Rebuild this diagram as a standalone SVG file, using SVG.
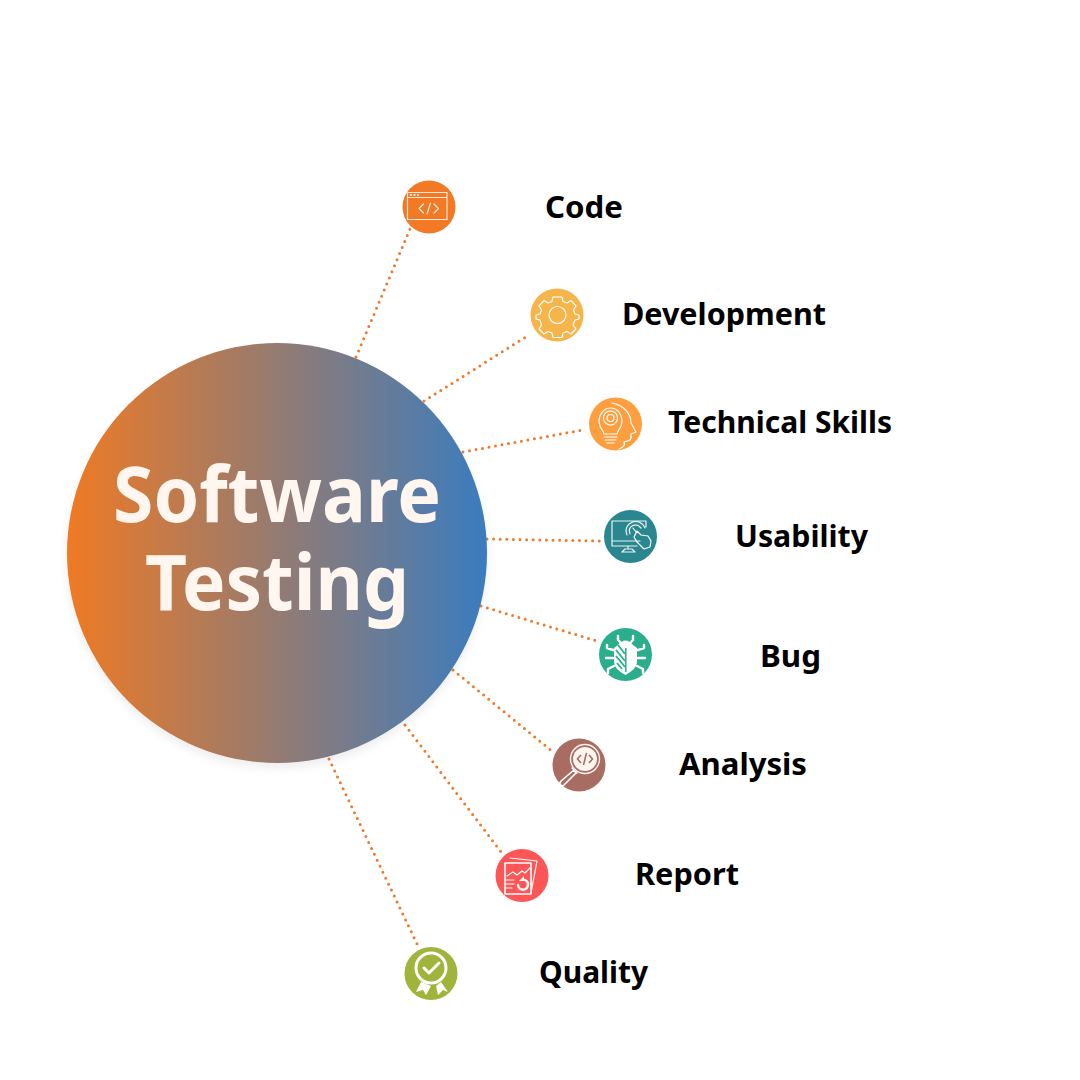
<svg xmlns="http://www.w3.org/2000/svg" width="1080" height="1080" viewBox="0 0 1080 1080">
<defs>
<linearGradient id="hub" x1="0" y1="0" x2="1" y2="0"><stop offset="0" stop-color="#ef7a24"/><stop offset="1" stop-color="#3a7bbf"/></linearGradient>
<filter id="soft" x="-10%" y="-10%" width="120%" height="120%"><feDropShadow dx="0" dy="5" stdDeviation="5" flood-color="#000" flood-opacity="0.07"/></filter>
</defs>
<style>
text{font-family:"Noto Sans","Open Sans","Liberation Sans",sans-serif;font-weight:700}
.lbl{font-size:31px;fill:#000}
.hub{font-size:77px;fill:#fff6ef}
.dot{fill:none;stroke:#ef7a2a;stroke-width:3;stroke-linecap:round;stroke-dasharray:0 6.6}
.ic{fill:none;stroke:#fff;stroke-width:1.2;stroke-linejoin:round;stroke-linecap:round}
.ict{fill:none;stroke:#fff;stroke-width:2.4;stroke-linejoin:round;stroke-linecap:round}
.wf{fill:#fff;stroke:none}
</style>
<rect width="1080" height="1080" fill="#fff"/>
<g id="connectors">
<path class="dot" d="M356 357L410 229"/>
<path class="dot" d="M424 401L529 335"/>
<path class="dot" d="M463 452L585 429.500"/>
<path class="dot" d="M487 539L601 541"/>
<path class="dot" d="M481 606L597 641"/>
<path class="dot" d="M453 670L553 752"/>
<path class="dot" d="M405 725L501 852"/>
<path class="dot" d="M329 759L418 946"/>
</g>
<g id="hub-node">
<circle cx="277" cy="553" r="210" fill="url(#hub)" filter="url(#soft)"/>
<text class="hub" x="113" y="522" textLength="328" lengthAdjust="spacingAndGlyphs">Software</text>
<text class="hub" x="145" y="610" textLength="264" lengthAdjust="spacingAndGlyphs">Testing</text>
</g>
<g id="node-code">
<circle cx="429" cy="207" r="26.500" fill="#f27a25"/>
<path class="ic" opacity=".8" d="M407.500 192.500H447V219.500H407.500ZM407.500 197.500H447"/>
<path class="ic" opacity=".85" d="M423.500 204L419 208.500L423.500 213M434 204L438.500 208.500L434 213M430.500 203L427 214"/>
<circle class="wf" cx="411" cy="195" r="1.100"/><circle class="wf" cx="414.500" cy="195" r="1.100"/><circle class="wf" cx="418" cy="195" r="1.100"/>
<text class="lbl" x="545" y="218" textLength="78" lengthAdjust="spacingAndGlyphs">Code</text>
</g>
<g id="node-development">
<circle cx="557" cy="315" r="26.500" fill="#f5b54a"/>
<circle class="ic" cx="557.500" cy="315" r="8.500"/>
<path class="ic" d="M553 297H562L563 301.500L567 303L571 300.500L576 306L573.500 310L575 314L579 315V319L575 320L573 325L576 329L571 334L567 331.500L563 333L562 337.500H553L552 333L548 331.500L544 334L539 329L541.500 325L540 320L536 319V315L540 314L541.500 310L539 306L544 300.500L548 303L552 301.500Z"/>
<text class="lbl" x="622" y="325" textLength="204" lengthAdjust="spacingAndGlyphs">Development</text>
</g>
<g id="node-technical-skills">
<circle cx="615.500" cy="424" r="26.500" fill="#fd9f3e"/>
<path class="ic" d="M612 403C623 405 631 413 631 423L636 432L631 434V438C631 441 627 441 624 442C626 446 621 448 619 449"/>
<circle class="ic" cx="610.500" cy="418" r="3.500"/>
<circle class="ic" cx="610.500" cy="418" r="7" stroke-dasharray="3 1"/>
<path class="ic" d="M604 434C603 430 601 429 600 426C597 418 602 408 610.500 408C619 408 624 418 621 426C620 429 618 430 617 434ZM604 437H617M605 440H616M607 443H614"/>
<text class="lbl" x="668" y="433" textLength="224" lengthAdjust="spacingAndGlyphs">Technical Skills</text>
</g>
<g id="node-usability">
<circle cx="630.500" cy="536.500" r="26.500" fill="#2a8790"/>
<path class="ic" opacity=".9" d="M646 527V521H612V546H637M612 541H640M628 546V549M622 552L625 549H632L635 552H622"/>
<path class="ic" opacity=".9" d="M636 532L633 528M630 534C627 526 636 522 641 528M627 535C622 522 640 516 645 528"/>
<path class="ic" d="M637 531L641 535L648 536L651 541L650 547L644 549L637 542L634 537Z"/>
<text class="lbl" x="735" y="547" textLength="133" lengthAdjust="spacingAndGlyphs">Usability</text>
</g>
<g id="node-bug">
<circle cx="625.500" cy="654.500" r="26.500" fill="#2bae8c"/>
<path class="ict" d="M618 636V640L621 643M633 636V640L630 643M613 650L607 648V645M638 650L644 648V645M613 658H606M638 658H645M614 666L608 669V673M637 666L643 669V673"/>
<path d="M618 645Q625.500 636 633 645L637 648V661C637 668 631 672 625.500 675C620 672 614 668 614 661V648Z" fill="#fff"/>
<path d="M616 650L625 661M616 656L625 667M618 645L625 654M617 663L622 669" stroke="#2bae8c" stroke-width="1.800" fill="none"/>
<path d="M625.800 648V672" stroke="#2bae8c" stroke-width="1.500"/>
<text class="lbl" x="760" y="667" textLength="61" lengthAdjust="spacingAndGlyphs">Bug</text>
</g>
<g id="node-analysis">
<circle cx="579" cy="765" r="26.500" fill="#a96c62"/>
<circle cx="585" cy="759" r="12" fill="#fff6ef"/>
<circle cx="585" cy="759" r="14.500" fill="none" stroke="#fff6ef" stroke-width="1.400"/>
<path d="M581 755L577.500 759L581 763M589 755L592.500 759L589 763M586.500 753L583.500 765" fill="none" stroke="#a96c62" stroke-width="1.600"/>
<path class="ict" style="stroke-width:1.600" d="M574 770L561 781Q558 785 563 786L576 773ZM572 768L577 773"/>
<text class="lbl" x="679" y="775" textLength="128" lengthAdjust="spacingAndGlyphs">Analysis</text>
</g>
<g id="node-report">
<circle cx="522" cy="875.500" r="26.500" fill="#fe5656"/>
<path class="ic" d="M510 858L537 861L531 893"/>
<rect class="ic" x="505" y="863" width="26" height="31" style="stroke-width:1.600"/>
<path class="ic" d="M507 876L513 872L517 875L522 871L525 873L530 868M506 880H514M506 884H514M506 888H512"/>
<path class="ict" d="M518 885A5 5 0 1 0 525 880"/>
<path class="wf" d="M519 881H524V876Z"/>
<text class="lbl" x="635" y="885" textLength="104" lengthAdjust="spacingAndGlyphs">Report</text>
</g>
<g id="node-quality">
<circle cx="431" cy="973.500" r="26.500" fill="#a0b43c"/>
<path d="M421 982L416 992L423 990L426 995L431 986ZM436 986L438 995L443 990L448 992L441 982Z" fill="#fff"/>
<circle cx="431" cy="968" r="15" fill="none" stroke="#fff" stroke-width="3"/>
<path d="M424 968L429 973L439 963" fill="none" stroke="#fff" stroke-width="3" stroke-linecap="round" stroke-linejoin="round"/>
<text class="lbl" x="539" y="983" textLength="109" lengthAdjust="spacingAndGlyphs">Quality</text>
</g>
</svg>
